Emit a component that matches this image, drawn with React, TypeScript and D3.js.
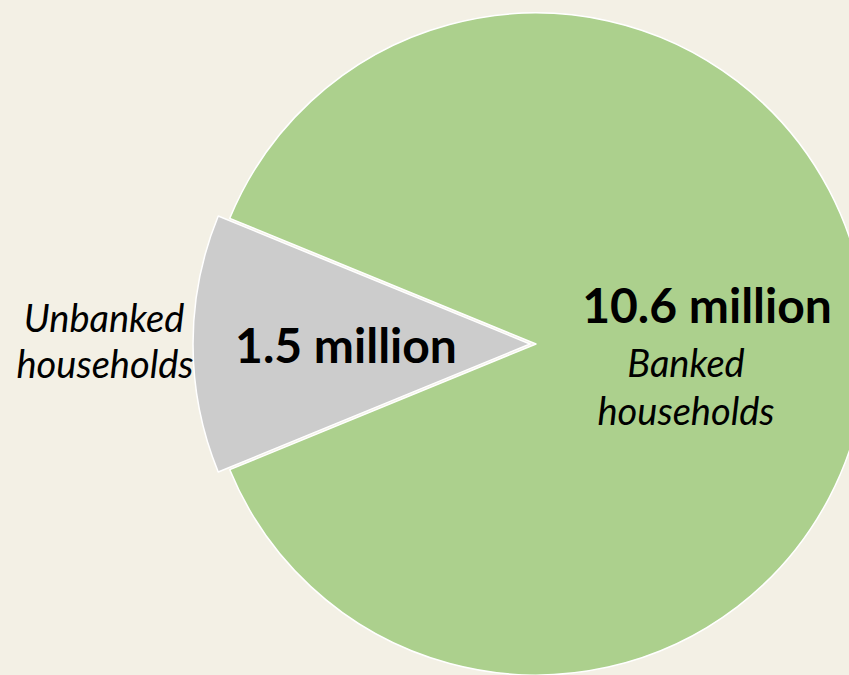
import React from "react";
import * as d3 from "d3";

const categories = ["Unbanked households", "Banked households"];
const values = [1.5, 10.6];
const valueLabels = ["1.5 million", "10.6 million"];
const colors = ["#cccccc", "#acd08d"];

const W = 849;
const H = 675;

export default function App() {
  const cx = 536;
  const cy = 344;
  const radii = [337, 331];
  const total = d3.sum(values);
  const g = (values[0] / total) * 2 * Math.PI;
  const pie = d3
    .pie<number>()
    .sort(null)
    .startAngle(-Math.PI / 2 - g / 2)
    .endAngle((3 * Math.PI) / 2 - g / 2);
  const arcs = pie(values);
  const explode = [6, 0];

  return (
    <svg
      width={W}
      height={H}
      style={{ position: "absolute", left: 0, top: 0 }}
      fontFamily="Lato, 'Open Sans', sans-serif"
    >
      <rect x={0} y={0} width={W} height={H} fill="#f3f0e5" />
      <g transform={`translate(${cx},${cy})`}>
        {arcs.map((a, i) => {
          const mid = (a.startAngle + a.endAngle) / 2;
          const dx = Math.sin(mid) * explode[i];
          const dy = -Math.cos(mid) * explode[i];
          const arc = d3.arc<d3.PieArcDatum<number>>().innerRadius(0).outerRadius(radii[i]);
          return (
            <path
              key={categories[i]}
              d={arc(a) || ""}
              transform={`translate(${dx},${dy})`}
              fill={colors[i]}
              stroke="#ffffff"
              strokeWidth={1.5}
              strokeLinejoin="round"
            />
          );
        })}
      </g>
      <text x={346} y={363} textAnchor="middle" fontWeight="bold" fontSize={48} fill="#000">
        {valueLabels[0]}
      </text>
      <text x={707} y={323} textAnchor="middle" fontWeight="bold" fontSize={48} fill="#000">
        {valueLabels[1]}
      </text>
      <text textAnchor="middle" fontStyle="italic" fontSize={38} fill="#000">
        <tspan x={104} y={332}>Unbanked</tspan>
        <tspan x={105} y={378}>households</tspan>
      </text>
      <text textAnchor="middle" fontStyle="italic" fontSize={38} fill="#000">
        <tspan x={686} y={377}>Banked</tspan>
        <tspan x={686} y={425}>households</tspan>
      </text>
    </svg>
  );
}
